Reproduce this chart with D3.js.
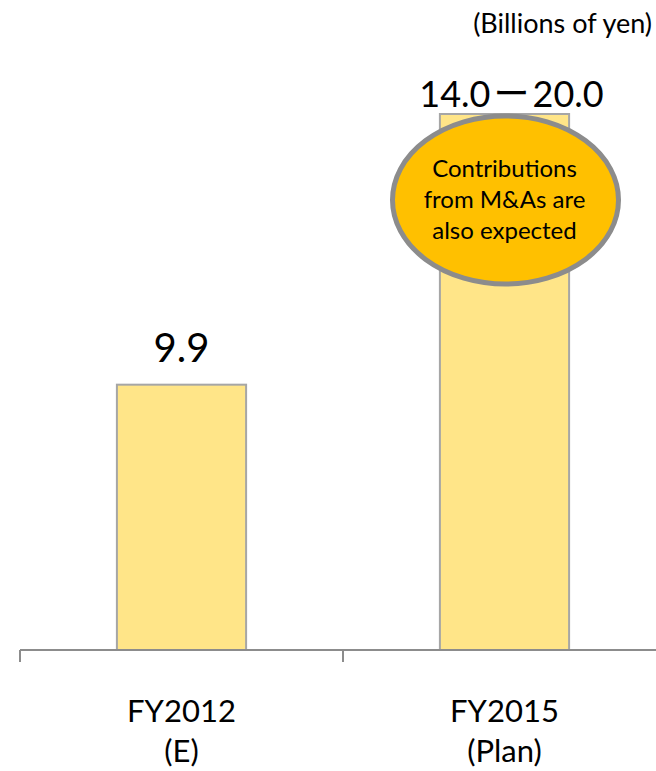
<!DOCTYPE html>
<html>
<head>
<meta charset="utf-8">
<script src="https://cdn.jsdelivr.net/npm/d3@7"></script>
<style>
  html, body { margin: 0; padding: 0; background: #fff; }
  svg { display: block; }
  text { font-family: Lato, "Noto Sans CJK JP", "Noto Sans", sans-serif; fill: #000; }
</style>
</head>
<body>
<svg id="chart" width="656" height="771"></svg>
<script>
// Operating income, billions of yen
const categories = ["FY2012\n(E)", "FY2015\n(Plan)"];
const values = [9.9, 20.0];
const valueLabels = ["9.9", "14.0\u30FC20.0"];
const unitLabel = "(Billions of yen)";
const noteLines = ["Contributions", "from M&As are", "also expected"];

const svg = d3.select("#chart");

const x = d3.scaleBand().domain(categories).range([20, 666]).padding(0);
const y = d3.scaleLinear().domain([0, 20]).range([650, 114]);
const barW = x.bandwidth() * 0.4;
const mid = (d) => x(d) + x.bandwidth() / 2;

// bars
svg.append("g").selectAll("rect")
  .data(categories)
  .join("rect")
  .attr("x", (d) => mid(d) - barW / 2)
  .attr("y", (d, i) => y(values[i]))
  .attr("width", barW)
  .attr("height", (d, i) => y(0) - y(values[i]))
  .attr("fill", "#FFE588")
  .attr("stroke", "#A6A6A6")
  .attr("stroke-width", 2);

// category axis with ticks on band boundaries
const axisColor = "#8C8C8C";
const ag = svg.append("g");
ag.append("line")
  .attr("x1", x.range()[0]).attr("x2", x.range()[1])
  .attr("y1", y(0)).attr("y2", y(0))
  .attr("stroke", axisColor).attr("stroke-width", 2);
const bounds = categories.map((c) => x(c)).concat([x.range()[1]]);
ag.selectAll("line.tick")
  .data(bounds)
  .join("line")
  .attr("class", "tick")
  .attr("x1", (d) => d).attr("x2", (d) => d)
  .attr("y1", y(0)).attr("y2", y(0) + 12)
  .attr("stroke", axisColor).attr("stroke-width", 2);

// category labels (two lines each)
svg.append("g").selectAll("text")
  .data(categories)
  .join("text")
  .attr("text-anchor", "middle")
  .attr("font-size", 31)
  .each(function (d) {
    const t = d3.select(this);
    d.split("\n").forEach((line, j) => {
      t.append("tspan")
        .attr("x", mid(d))
        .attr("y", 722 + j * 40)
        .text(line);
    });
  });

// value labels above bars; a range label gets a little air around its dash
const labelSize = [40, 36];
const labelGap = [23, 7];
const labelShift = [0, 7];
svg.append("g").selectAll("text")
  .data(categories)
  .join("text")
  .attr("text-anchor", "middle")
  .attr("font-size", (d, i) => labelSize[i])
  .attr("x", (d, i) => mid(d) + labelShift[i])
  .attr("y", (d, i) => y(values[i]) - labelGap[i])
  .each(function (d, i) {
    const parts = valueLabels[i].split(/(\u30FC)/);
    const t = d3.select(this);
    parts.forEach((p, k) => {
      t.append("tspan").attr("dx", k > 0 ? 3 : null).text(p);
    });
  });

// unit label
svg.append("text")
  .attr("x", 652).attr("y", 33)
  .attr("text-anchor", "end")
  .attr("font-size", 27)
  .text(unitLabel);

// callout ellipse over the plan bar
const cx = mid(categories[1]);
svg.append("ellipse")
  .attr("cx", cx + 1).attr("cy", 200)
  .attr("rx", 113).attr("ry", 84)
  .attr("fill", "#FFC000")
  .attr("stroke", "#8C8C8C")
  .attr("stroke-width", 5);
svg.append("g").selectAll("text")
  .data(noteLines)
  .join("text")
  .attr("text-anchor", "middle")
  .attr("font-size", 24)
  .attr("x", cx)
  .attr("y", (d, i) => 177 + i * 31)
  .text((d) => d);
</script>
</body>
</html>
